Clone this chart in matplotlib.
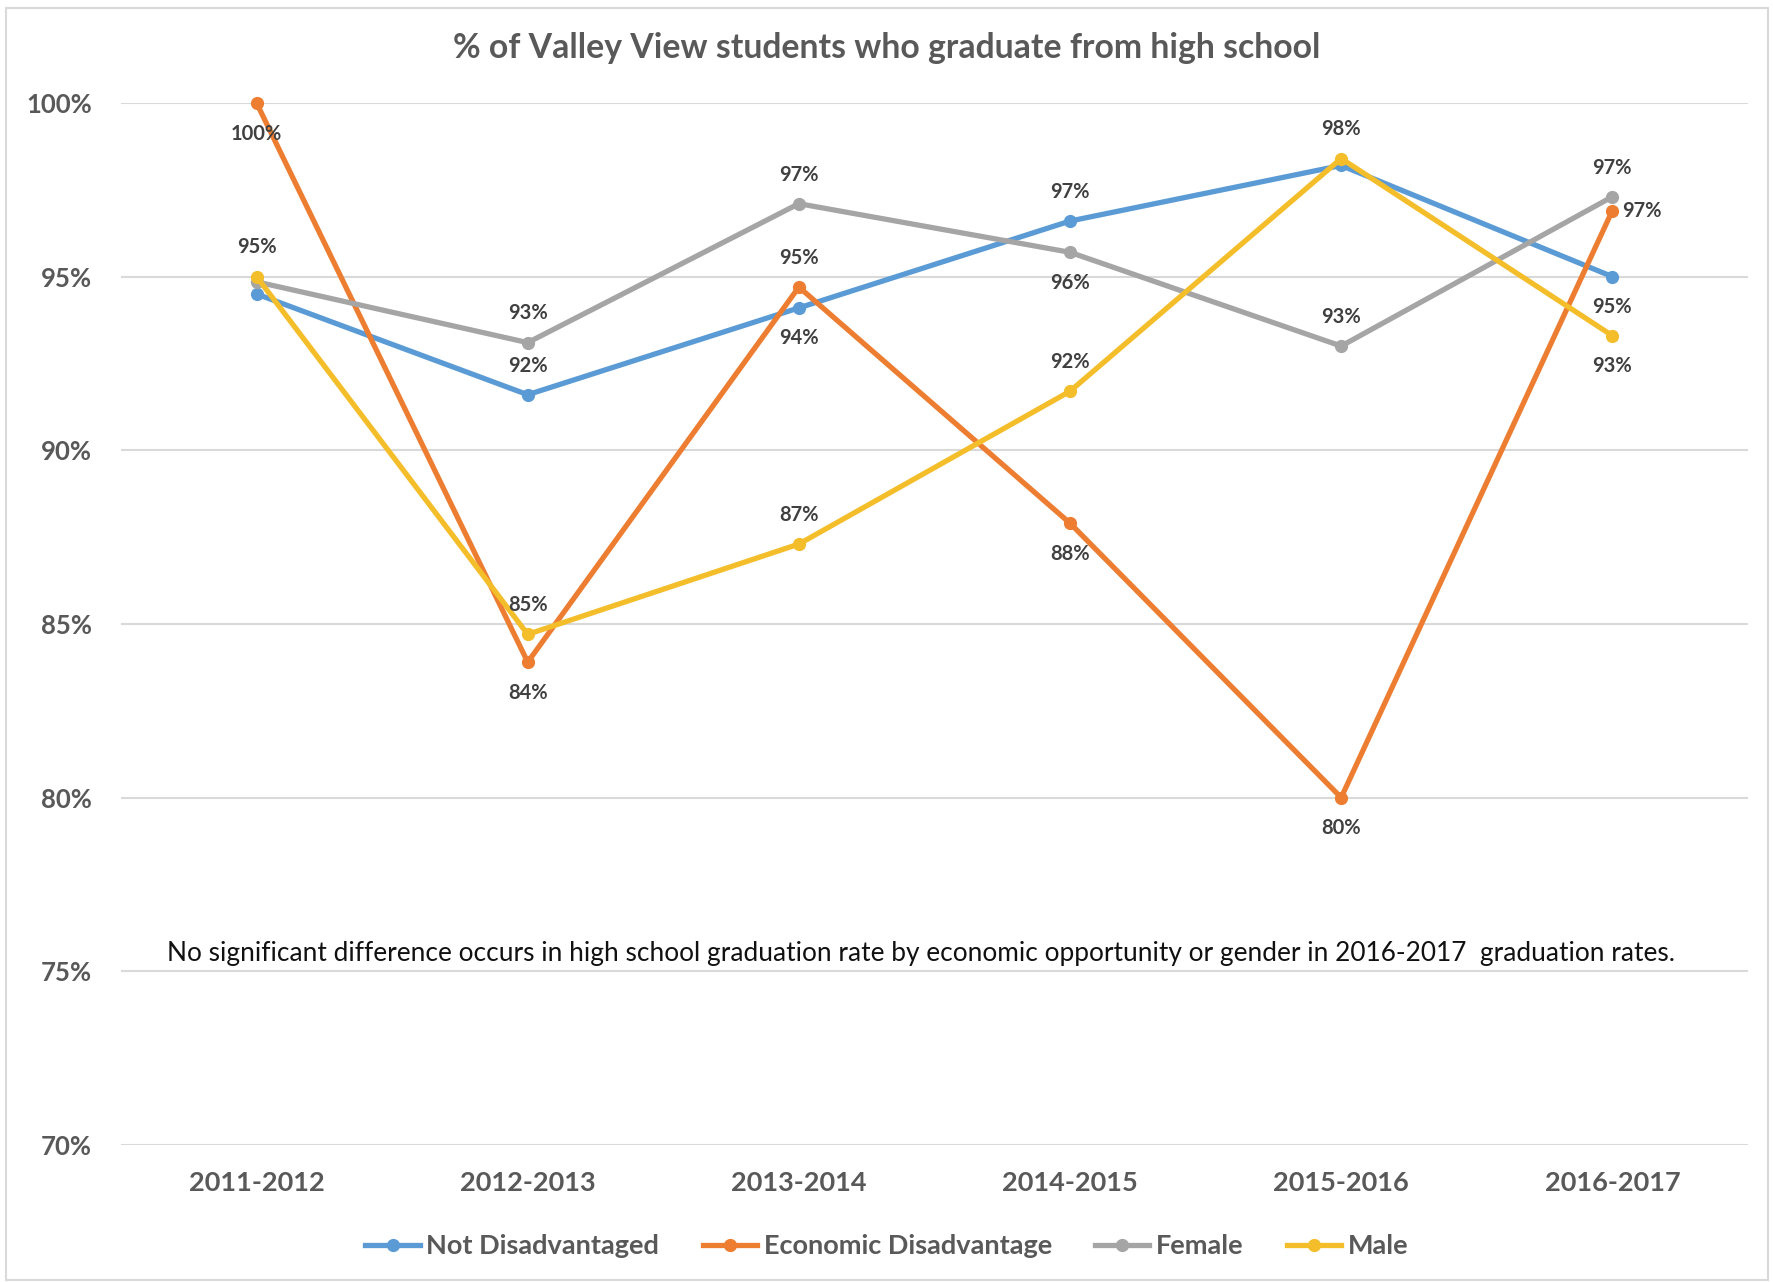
import matplotlib
matplotlib.use("Agg")
import matplotlib.pyplot as plt
from matplotlib.patches import Rectangle
from matplotlib.ticker import FuncFormatter

plt.rcParams['font.family'] = ['Lato', 'DejaVu Sans']

# ---- data ----
years = ["2011-2012", "2012-2013", "2013-2014", "2014-2015", "2015-2016", "2016-2017"]
not_disadvantaged = [94.5, 91.6, 94.1, 96.6, 98.2, 95.0]
economic_disadvantage = [100.0, 83.9, 94.7, 87.9, 80.0, 96.9]
female = [94.85, 93.1, 97.1, 95.7, 93.0, 97.3]
male = [95.0, 84.7, 87.3, 91.7, 98.4, 93.3]

series_names = ["Not Disadvantaged", "Economic Disadvantage", "Female", "Male"]
series_values = [not_disadvantaged, economic_disadvantage, female, male]
colors = ["#5B9BD5", "#ED7D31", "#A5A5A5", "#F4BD2A"]
# label placement per point: 'a' above, 'b' below, 'r' right, None = no label
label_pos = [
    [None, 'a', 'b', 'a', None, 'b'],
    ['b', 'b', 'a', 'b', 'b', 'r'],
    [None, 'a', 'a', 'b', 'a', 'a'],
    ['a', 'a', 'a', 'a', 'a', 'b'],
]
title = "% of Valley View students who graduate from high school"
note = ("No significant difference occurs in high school graduation rate by economic "
        "opportunity or gender in 2016-2017  graduation rates.")

fig = plt.figure(figsize=(17.74, 12.82), dpi=100)
ax = fig.add_axes([0.0682, 0.1069, 0.9171, 0.8128])

x = list(range(len(years)))
txt_col = "#595959"
lab_col = "#404040"
for name, vals, col, pos in zip(series_names, series_values, colors, label_pos):
    ax.plot(x, vals, color=col, lw=3.8, marker='o', ms=8.5, label=name,
            solid_joinstyle='round', clip_on=False, zorder=3)
    for xi, v, p in zip(x, vals, pos):
        if p is None:
            continue
        if p == 'a':
            off, ha, va = (0, 21), 'center', 'center'
        elif p == 'b':
            off, ha, va = (0, -22), 'center', 'center'
        else:
            off, ha, va = (7, 0), 'left', 'center'
        ax.annotate(f"{v:.0f}%", (xi, v), xytext=off, textcoords='offset points',
                    ha=ha, va=va, fontsize=14.5, fontweight='bold', color=lab_col, zorder=5)

ax.set_xlim(-0.5, len(years) - 0.5)
ax.set_ylim(70, 100)
ax.set_yticks([70, 75, 80, 85, 90, 95, 100])
ax.yaxis.set_major_formatter(FuncFormatter(lambda v, p: f"{v:.0f}%"))
ax.set_xticks(x)
ax.set_xticklabels(years)
ax.grid(axis='y', color="#D9D9D9", lw=1.5, zorder=0)
ax.set_axisbelow(True)
for s in ax.spines.values():
    s.set_visible(False)
ax.tick_params(axis='both', length=0, colors=txt_col)
ax.tick_params(axis='y', labelsize=18.5, pad=21)
ax.tick_params(axis='x', labelsize=19.5, pad=19)
for lab in ax.get_xticklabels() + ax.get_yticklabels():
    lab.set_fontweight('bold')

fig.text(921 / 1774, 1 - 953 / 1282, note, ha='center', va='center', fontsize=18.9,
         color='#111111')

fig.text(0.5, 1 - 47.5 / 1282, title, ha='center', va='center', fontsize=24.3,
         fontweight='bold', color=txt_col)

leg = fig.legend(loc='center', bbox_to_anchor=(0.5, 1 - 1246 / 1282), ncol=4, frameon=False,
                 handlelength=2.0, columnspacing=1.6, handletextpad=0.25,
                 prop={'weight': 'bold', 'size': 19.5})
for t in leg.get_texts():
    t.set_color(txt_col)

fig.patches.append(Rectangle((6 / 1774, 2 / 1282), 1 - 12 / 1774, 1 - 10 / 1282,
                             transform=fig.transFigure, fill=False, edgecolor="#D9D9D9", lw=1.5))

fig.savefig("out.png", dpi=100)
